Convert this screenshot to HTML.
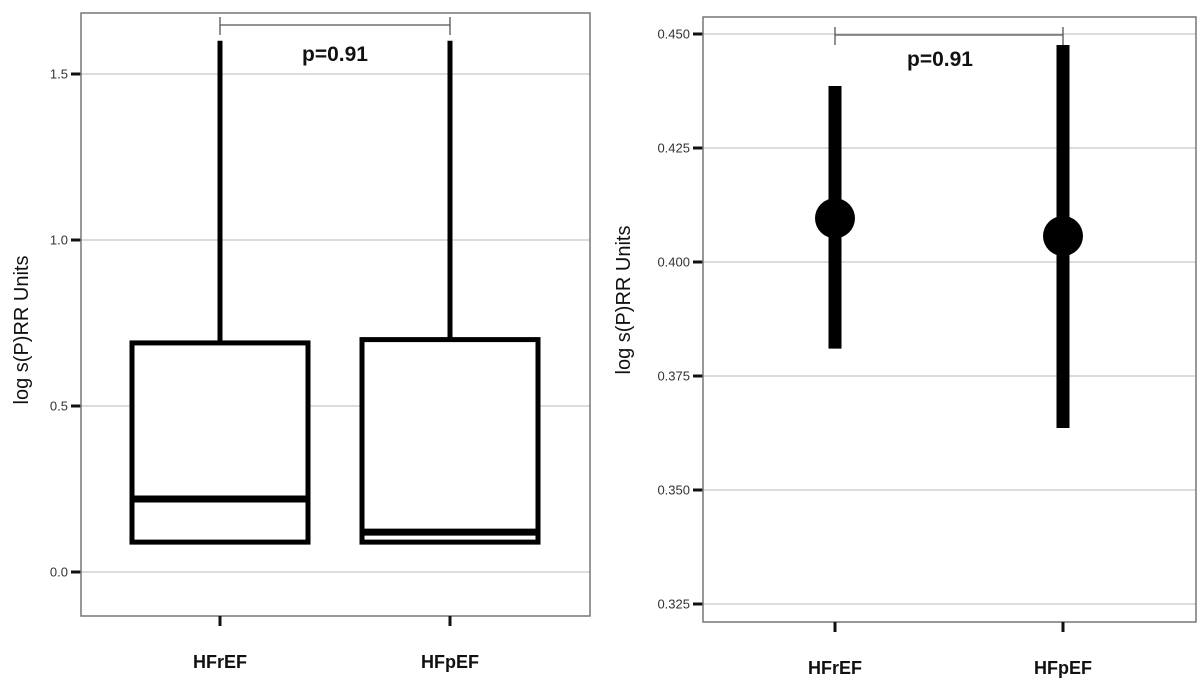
<!DOCTYPE html>
<html><head><meta charset="utf-8"><style>
body{margin:0;background:#fff}
text{font-family:"Liberation Sans",Arial,sans-serif}
</style></head><body>
<svg id="c" width="1200" height="681" viewBox="0 0 1200 681" xmlns="http://www.w3.org/2000/svg"></svg>
<script>
// Left panel data (box plot)
const boxCats = ["HFrEF", "HFpEF"];
const boxLow = [0.09, 0.09];
const boxQ1 = [0.09, 0.09];
const boxMed = [0.22, 0.12];
const boxQ3 = [0.69, 0.70];
const boxHigh = [1.60, 1.60];
const leftTicks = [0.0, 0.5, 1.0, 1.5];
const leftTickLabels = ["0.0", "0.5", "1.0", "1.5"];
// Right panel data (mean + CI)
const ciCats = ["HFrEF", "HFpEF"];
const ciMean = [0.4096, 0.4057];
const ciLow = [0.381, 0.3636];
const ciHigh = [0.4386, 0.4476];
const rightTicks = [0.325, 0.350, 0.375, 0.400, 0.425, 0.450];
const rightTickLabels = ["0.325", "0.350", "0.375", "0.400", "0.425", "0.450"];
const pLabel = "p=0.91";

const svg = document.getElementById('c');
const NS = "http://www.w3.org/2000/svg";
function mk(tag, attrs, parent){const e=document.createElementNS(NS,tag);for(const k in attrs)e.setAttribute(k,attrs[k]);(parent||svg).appendChild(e);return e;}

function panel(o){
  const g = mk('g',{});
  
  
  const y = v => o.y0 - (v - o.v0) * o.ppu;
  const x = i => o.xs[i];
  o.ticks.forEach((t,i)=>{
    const l = mk('line',{x1:o.L,x2:o.R,y1:y(t),y2:y(t),stroke:'#c8c8c8','stroke-width':1.2},g);
    
    
    const tk = mk('line',{x1:o.L-10,x2:o.L,y1:y(t),y2:y(t),stroke:'#111','stroke-width':3},g);
    
    
    const tx = mk('text',{x:o.L-13,y:y(t)+4.5,'text-anchor':'end','font-size':13,fill:'#333'},g);
    tx.textContent = o.labels[i];
    
    
  });
  const fr = mk('rect',{x:o.L,y:o.T,width:o.R-o.L,height:o.B-o.T,fill:'none',stroke:'#777','stroke-width':1.5},g);
  
  
  o.cats.forEach((c,i)=>{
    const tk = mk('line',{x1:x(i),x2:x(i),y1:o.B,y2:o.B+10,stroke:'#111','stroke-width':3},g);
    
    
    const tx = mk('text',{x:x(i),y:o.B+52,'text-anchor':'middle','font-size':18,'font-weight':'bold',fill:'#111'},g);
    tx.textContent = c;
    
    
  });
  const yt = mk('text',{x:0,y:0,'text-anchor':'middle','font-size':20,fill:'#111',transform:`translate(${o.yTitleX},${o.yTitleY}) rotate(-90)`},g);
  yt.textContent = 'log s(P)RR Units';
  
  
  const br = mk('path',{d:`M${x(0)},${o.brY-8}V${o.brY+10}M${x(0)},${o.brY}H${x(1)}M${x(1)},${o.brY-8}V${o.brY+10}`,stroke:'#555','stroke-width':1.3,fill:'none'},g);
  
  
  const pt = mk('text',{x:o.pX,y:o.pY,'text-anchor':'middle','font-size':21,'font-weight':'bold',fill:'#111'},g);
  pt.textContent = pLabel;
  
  
  return {g,x,y};
}

const P1 = panel({name:'boxplot-panel',L:81,R:590,T:13,B:616,v0:0,y0:572,ppu:332,xs:[220,450],
  ticks:leftTicks,labels:leftTickLabels,cats:boxCats,yTitleX:28,yTitleY:330,brY:25,pX:335,pY:61});
boxCats.forEach((c,i)=>{
  const cx=P1.x(i), w=176;
  const wh = mk('line',{x1:cx,x2:cx,y1:P1.y(boxHigh[i]),y2:P1.y(boxQ3[i]),stroke:'#000','stroke-width':5},P1.g);
  
  
  const wl = mk('line',{x1:cx,x2:cx,y1:P1.y(boxQ1[i]),y2:P1.y(boxLow[i]),stroke:'#000','stroke-width':5},P1.g);
  
  
  const bx = mk('rect',{x:cx-w/2,y:P1.y(boxQ3[i]),width:w,height:P1.y(boxQ1[i])-P1.y(boxQ3[i]),fill:'#fff',stroke:'#000','stroke-width':5},P1.g);
  
  
  const md = mk('line',{x1:cx-w/2,x2:cx+w/2,y1:P1.y(boxMed[i]),y2:P1.y(boxMed[i]),stroke:'#000','stroke-width':7},P1.g);
  
  
});

const P2 = panel({name:'mean-ci-panel',L:703,R:1196,T:17,B:622,v0:0.4,y0:262,ppu:4560,xs:[835,1063],
  ticks:rightTicks,labels:rightTickLabels,cats:ciCats,yTitleX:630,yTitleY:300,brY:35,pX:940,pY:66});
ciCats.forEach((c,i)=>{
  const cx=P2.x(i);
  const ln = mk('line',{x1:cx,x2:cx,y1:P2.y(ciHigh[i]),y2:P2.y(ciLow[i]),stroke:'#000','stroke-width':13},P2.g);
  
  
  const pt = mk('circle',{cx:cx,cy:P2.y(ciMean[i]),r:20,fill:'#000'},P2.g);
  
  
});
</script>
</body></html>
